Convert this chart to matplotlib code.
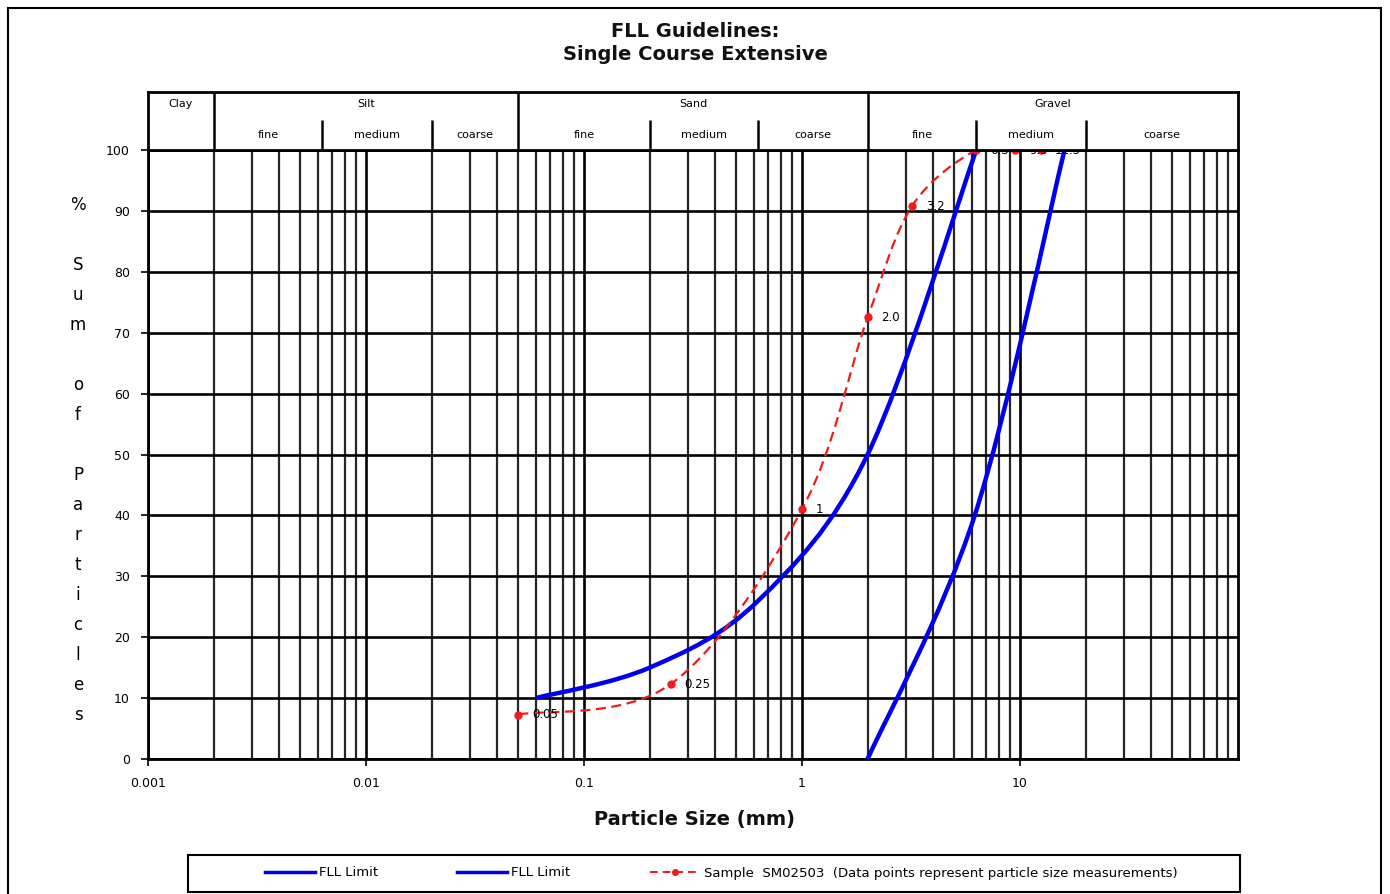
import numpy as np
import matplotlib

matplotlib.use("Agg")
import matplotlib.pyplot as plt
from matplotlib.lines import Line2D
from matplotlib.patches import PathPatch, Rectangle
from matplotlib.path import Path
from matplotlib.ticker import FixedLocator, LogLocator, NullFormatter

# FLL limit curves (size in mm, % passing)
limit_low_size = [0.06, 0.2, 0.63, 2.0, 6.3]
limit_low_pct = [10, 15, 26, 50, 100]
limit_high_size = [2.0, 6.2, 16.0]
limit_high_pct = [0, 40, 100]

# sample measurements
sample_size = [0.05, 0.25, 1.0, 2.0, 3.2, 6.3, 9.5, 12.5]
sample_pct = [7.3, 12.3, 41, 72.5, 90.8, 100, 100, 100]
sample_labels = ["0.05", "0.25", "1", "2.0", "3.2", "6.3", "9.5", "12.5"]

# soil class header
main_classes = ["Clay", "Silt", "Sand", "Gravel"]
main_bounds = [0.001, 0.002, 0.05, 2.0, 100.0]
sub_classes = ["fine", "medium", "coarse"]
sub_bounds = {
    "Silt": [0.002, 0.0063, 0.02, 0.05],
    "Sand": [0.05, 0.2, 0.63, 2.0],
    "Gravel": [2.0, 6.3, 20.0, 100.0],
}

x_ticks = [0.001, 0.01, 0.1, 1, 10]
x_tick_labels = ["0.001", "0.01", "0.1", "1", "10"]
y_ticks = list(range(0, 101, 10))

BLUE = "#0000ee"
RED = "#ee1c1c"
FONT = "DejaVu Sans"


def smooth_path(xs, ys):
    """Excel-like smoothed line: cubic Bezier through points in (log x, y)."""
    pts = np.column_stack([np.log10(xs), np.asarray(ys, float)])
    n = len(pts)
    verts = [pts[0]]
    codes = [Path.MOVETO]
    for i in range(n - 1):
        p0, p1 = pts[max(i - 1, 0)], pts[i]
        p2, p3 = pts[i + 1], pts[min(i + 2, n - 1)]
        verts += [p1 + (p2 - p0) / 6, p2 - (p3 - p1) / 6, p2]
        codes += [Path.CURVE4] * 3
    verts = np.array(verts)
    verts[:, 0] = 10 ** verts[:, 0]
    return Path(verts, codes)


W, H = 1390, 894
fig = plt.figure(figsize=(W / 100, H / 100), dpi=100)
plt.rcParams["font.family"] = FONT

left, right = 148 / W, 1238 / W
ax = fig.add_axes([left, 1 - 759 / H, right - left, (759 - 150) / H])
ax.set_xscale("log")
ax.set_xlim(0.001, 100)
ax.set_ylim(0, 100)

ax.xaxis.set_major_locator(FixedLocator(x_ticks))
ax.set_xticklabels(x_tick_labels)
ax.xaxis.set_minor_locator(LogLocator(base=10, subs=np.arange(2, 10)))
ax.xaxis.set_minor_formatter(NullFormatter())
ax.set_yticks(y_ticks)
ax.tick_params(axis="both", which="major", labelsize=9, length=5, width=1.2, pad=8)
ax.tick_params(axis="x", which="minor", length=0)

ax.set_axisbelow(True)
ax.grid(which="major", color="black", lw=1.9)
ax.grid(which="minor", axis="x", color="#262626", lw=1.6)
for s in ax.spines.values():
    s.set_linewidth(2)

ax.add_patch(PathPatch(smooth_path(limit_low_size, limit_low_pct),
                       fill=False, edgecolor=BLUE, lw=3.2, zorder=3))
ax.add_patch(PathPatch(smooth_path(limit_high_size, limit_high_pct),
                       fill=False, edgecolor=BLUE, lw=3.2, zorder=3))
ax.add_patch(PathPatch(smooth_path(sample_size, sample_pct), fill=False,
                       edgecolor=RED, lw=1.6, linestyle=(0, (4.5, 2.5)), zorder=4))
ax.plot(sample_size, sample_pct, "o", color=RED, ms=5, clip_on=False, zorder=5)
for xv, yv, lab in zip(sample_size, sample_pct, sample_labels):
    ax.annotate(lab, (xv, yv), xytext=(10, 0), textcoords="offset points",
                fontsize=8.5, va="center", ha="left", annotation_clip=False, zorder=6)

# header with soil classes
hax = fig.add_axes([left, 1 - 150 / H, right - left, (150 - 92) / H])
hax.set_xscale("log")
hax.set_xlim(0.001, 100)
hax.set_ylim(0, 1)
hax.set_xticks([])
hax.set_yticks([])
hax.xaxis.set_minor_locator(FixedLocator([]))
for s in hax.spines.values():
    s.set_linewidth(2)
for b in main_bounds[1:-1]:
    hax.axvline(b, color="black", lw=1.8)
for i, name in enumerate(main_classes):
    a, b = main_bounds[i], main_bounds[i + 1]
    hax.text(np.sqrt(a * b), 0.8, name, ha="center", va="center", fontsize=8)
    if name in sub_bounds:
        sb = sub_bounds[name]
        for v in sb[1:-1]:
            hax.vlines(v, 0, 0.52, color="black", lw=1.8)
        for j, sub in enumerate(sub_classes):
            hax.text(np.sqrt(sb[j] * sb[j + 1]), 0.25, sub, ha="center",
                     va="center", fontsize=8)

# titles and labels
fig.text(0.5, 1 - 43 / H, "FLL Guidelines:\nSingle Course Extensive",
         ha="center", va="center", fontsize=14, fontweight="bold",
         linespacing=1.3, color="#111111")
fig.text(695 / W, 1 - 820 / H, "Particle Size (mm)", ha="center", va="center",
         fontsize=14, fontweight="bold", color="#111111")
ylab = "%\n\nS\nu\nm\n\no\nf\n\nP\na\nr\nt\ni\nc\nl\ne\ns"
fig.text(78 / W, 1 - 460 / H, ylab, ha="center", va="center", fontsize=12,
         linespacing=1.86)

# legend
handles = [
    Line2D([], [], color=BLUE, lw=2.5),
    Line2D([], [], color=BLUE, lw=2.5),
    Line2D([], [], color=RED, lw=1.4, ls=(0, (4, 2.5)), marker="o", ms=4),
]
labels = ["FLL Limit", "FLL Limit",
          "Sample  SM02503  (Data points represent particle size measurements)"]
fig.legend(handles, labels, loc="center", bbox_to_anchor=(721 / W, 1 - 873 / H),
           ncol=3, frameon=False, fontsize=9.5, handlelength=3.8,
           columnspacing=6.0, handletextpad=0.3)
fig.add_artist(Rectangle((188 / W, 1 - 892 / H), (1240 - 188) / W, 37 / H,
                         transform=fig.transFigure, fill=False, lw=1.5,
                         edgecolor="black"))
fig.add_artist(Rectangle((8 / W, -0.01), (1381 - 8) / W, 1 - 8 / H + 0.01,
                         transform=fig.transFigure, fill=False, lw=1.5,
                         edgecolor="black"))

fig.savefig("out.png", dpi=100)
